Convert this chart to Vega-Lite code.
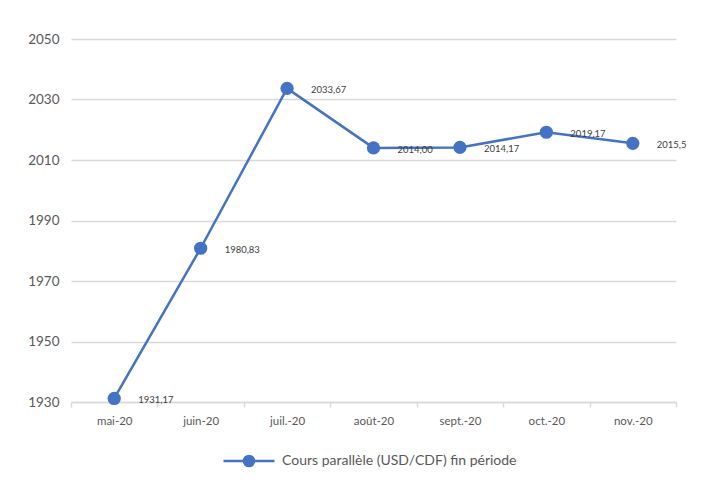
{
  "$schema": "https://vega.github.io/schema/vega-lite/v6.json",
  "width": 605,
  "height": 363,
  "autosize": {"type": "none"},
  "padding": {"left": 71, "top": 39, "right": 43, "bottom": 86},
  "background": "#ffffff",
  "config": {
    "font": "Lato",
    "view": {"stroke": null}
  },
  "data": {
    "values": [
      {"mois": "mai-20", "valeur": 1931.17, "etiquette": "1931,17"},
      {"mois": "juin-20", "valeur": 1980.83, "etiquette": "1980,83"},
      {"mois": "juil.-20", "valeur": 2033.67, "etiquette": "2033,67"},
      {"mois": "août-20", "valeur": 2014.00, "etiquette": "2014,00"},
      {"mois": "sept.-20", "valeur": 2014.17, "etiquette": "2014,17"},
      {"mois": "oct.-20", "valeur": 2019.17, "etiquette": "2019,17"},
      {"mois": "nov.-20", "valeur": 2015.5, "etiquette": "2015,5"}
    ]
  },
  "encoding": {
    "x": {
      "field": "mois",
      "type": "nominal",
      "sort": null,
      "scale": {"paddingInner": 0, "paddingOuter": 0},
      "axis": {
        "title": null,
        "labelAngle": 0,
        "tickBand": "extent",
        "domainColor": "#D9D9D9",
        "domainWidth": 1.5,
        "tickColor": "#D9D9D9",
        "tickWidth": 1.5,
        "tickSize": 5,
        "labelColor": "#595959",
        "labelFontSize": 11.5,
        "labelPadding": 8,
        "grid": false
      }
    },
    "y": {
      "field": "valeur",
      "type": "quantitative",
      "scale": {"domain": [1930, 2050], "zero": false, "nice": false},
      "axis": {
        "title": null,
        "values": [1930, 1950, 1970, 1990, 2010, 2030, 2050],
        "format": "d",
        "domain": false,
        "ticks": false,
        "labelColor": "#595959",
        "labelFontSize": 13.5,
        "labelPadding": 12,
        "gridColor": "#D9D9D9",
        "gridWidth": 1.5
      }
    }
  },
  "layer": [
    {
      "mark": {"type": "line", "strokeWidth": 2.5},
      "encoding": {
        "color": {
          "datum": "Cours parallèle (USD/CDF) fin période",
          "scale": {"range": ["#4472C4"]},
          "legend": {
            "title": null,
            "orient": "none",
            "legendX": 151,
            "legendY": 395,
            "symbolType": "M-1,0L1,0M-0.2,0A0.2,0.2,0,1,1,0.2,0A0.2,0.2,0,1,1,-0.2,0Z",
            "symbolSize": 2601,
            "symbolStrokeWidth": 2.5,
            "symbolFillColor": "#4472C4",
            "symbolStrokeColor": "#4472C4",
            "labelFontSize": 14,
            "labelColor": "#595959",
            "labelOffset": 6,
            "labelLimit": 500
          }
        }
      }
    },
    {
      "mark": {"type": "point", "filled": true, "size": 175, "color": "#4472C4", "opacity": 1}
    },
    {
      "mark": {"type": "text", "align": "left", "baseline": "middle", "dx": 24, "dy": 2, "fontSize": 9.5, "color": "#404040"},
      "encoding": {"text": {"field": "etiquette"}}
    }
  ]
}
